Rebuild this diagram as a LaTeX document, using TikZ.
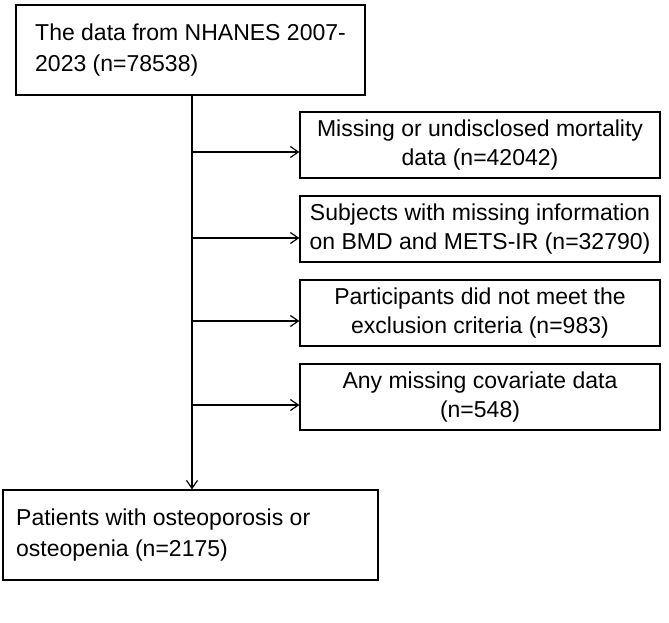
\documentclass[tikz,border=0pt]{standalone}
\usepackage{fontspec}
\setmainfont{Liberation Sans}
\usetikzlibrary{positioning, arrows.meta}
\tikzset{
  stage/.style={draw, line width=1.2pt, align=center, inner sep=0pt, font=\fontsize{23}{29}\selectfont},
  flow/.style={->, line width=1.2pt, >={Straight Barb[length=8pt,width=11pt]}}
}
\begin{document}
\begin{tikzpicture}[x=1pt,y=-1pt]
      \useasboundingbox (0,0) rectangle (669,622);
      \node[stage, minimum width=349pt, minimum height=90pt] (total) at (190.5,50) {};
      \node[font=\fontsize{23}{31}\selectfont, align=left, anchor=west, inner sep=0pt] (totaltext) at (35,50) {The data from NHANES 2007-\\2023 (n=78538)};
      \node[stage, minimum width=375pt, minimum height=90pt] (final) at (190.5,535) {};
      \node[font=\fontsize{23}{31}\selectfont, align=left, anchor=west, inner sep=0pt] (finaltext) at (16,535) {Patients with osteoporosis or\\osteopenia (n=2175)};

      \node[stage, minimum width=360pt, minimum height=66pt] (ex1) at (480,145) {Missing or undisclosed mortality\\data (n=42042)};
      \node[stage, minimum width=360pt, minimum height=66pt] (ex2) at (480,229) {Subjects with missing information\\on BMD and METS-IR (n=32790)};
      \node[stage, minimum width=360pt, minimum height=66pt] (ex3) at (480,313) {Participants did not meet the\\exclusion criteria (n=983)};
      \node[stage, minimum width=360pt, minimum height=66pt] (ex4) at (480,397) {Any missing covariate data\\(n=548)};

      \coordinate (b1) at (192,152);
      \coordinate (b2) at (192,238);
      \coordinate (b3) at (192,321);
      \coordinate (b4) at (192,405);

      \draw[flow] (192,95) -- (final.north -| 192,0);
      \draw[flow] (b1) -- (b1 -| ex1.west);
      \draw[flow] (b2) -- (b2 -| ex2.west);
      \draw[flow] (b3) -- (b3 -| ex3.west);
      \draw[flow] (b4) -- (b4 -| ex4.west);
\end{tikzpicture}
\end{document}
